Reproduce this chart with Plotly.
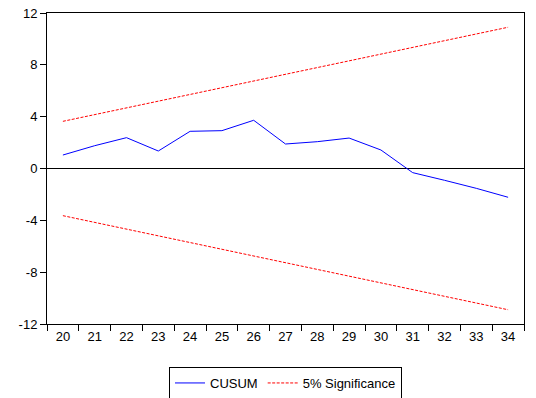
import plotly.graph_objects as go

periods = ["20", "21", "22", "23", "24", "25", "26", "27", "28", "29", "30", "31", "32", "33", "34"]
cusum = [1.04, 1.76, 2.38, 1.35, 2.87, 2.92, 3.72, 1.89, 2.07, 2.35, 1.43, -0.32, -0.91, -1.53, -2.22]
upper_5pct = [3.64, 4.16, 4.68, 5.19, 5.71, 6.23, 6.75, 7.27, 7.78, 8.30, 8.82, 9.34, 9.86, 10.38, 10.90]
lower_5pct = [-3.64, -4.16, -4.68, -5.19, -5.71, -6.23, -6.75, -7.27, -7.78, -8.30, -8.82, -9.34, -9.86, -10.38, -10.90]
y_ticks = [-12, -8, -4, 0, 4, 8, 12]

font = dict(family="Liberation Sans, Arial, sans-serif", size=13, color="black")

W, H = 536, 398

fig = go.Figure()
fig.add_trace(go.Scatter(x=periods, y=cusum, mode="lines", name="CUSUM",
                         line=dict(color="#0000FF", width=1)))
fig.add_trace(go.Scatter(x=periods, y=upper_5pct, mode="lines", name="5% Significance",
                         line=dict(color="#FF0000", width=1, dash="3px,1.5px")))
fig.add_trace(go.Scatter(x=periods, y=lower_5pct, mode="lines", name="5% Significance",
                         line=dict(color="#FF0000", width=1, dash="3px,1.5px"), showlegend=False))

fig.update_layout(
    width=W, height=H,
    margin=dict(l=47, r=12, t=13, b=74, autoexpand=False),
    paper_bgcolor="white", plot_bgcolor="white",
    font=font,
    showlegend=True,
    legend=dict(orientation="h", x=0.5, xanchor="center",
                yref="container", y=1 - 367 / H, yanchor="top",
                bordercolor="black", borderwidth=1, bgcolor="white",
                font=font, itemwidth=30, tracegroupgap=0),
    xaxis=dict(type="category", categoryorder="array", categoryarray=periods,
               range=[-0.5, 14.5], tickson="boundaries", ticks="outside", ticklen=6,
               tickcolor="black", showline=True, linecolor="black", linewidth=1,
               mirror=True, showgrid=False, zeroline=False, tickfont=font, automargin=False),
    yaxis=dict(range=[-12, 12], tickvals=y_ticks, ticktext=[str(v) for v in y_ticks],
               ticks="outside", ticklen=6, tickcolor="black", showline=True,
               linecolor="black", linewidth=1, mirror=True, showgrid=False,
               zeroline=True, zerolinecolor="black", zerolinewidth=1, tickfont=font,
               automargin=False),
)

# remove the page's default body margin so the figure fills the window exactly
fig.write_html("out.html",
               config={"displayModeBar": False},
               post_script="document.body.style.margin='0';document.body.style.overflow='hidden';")
